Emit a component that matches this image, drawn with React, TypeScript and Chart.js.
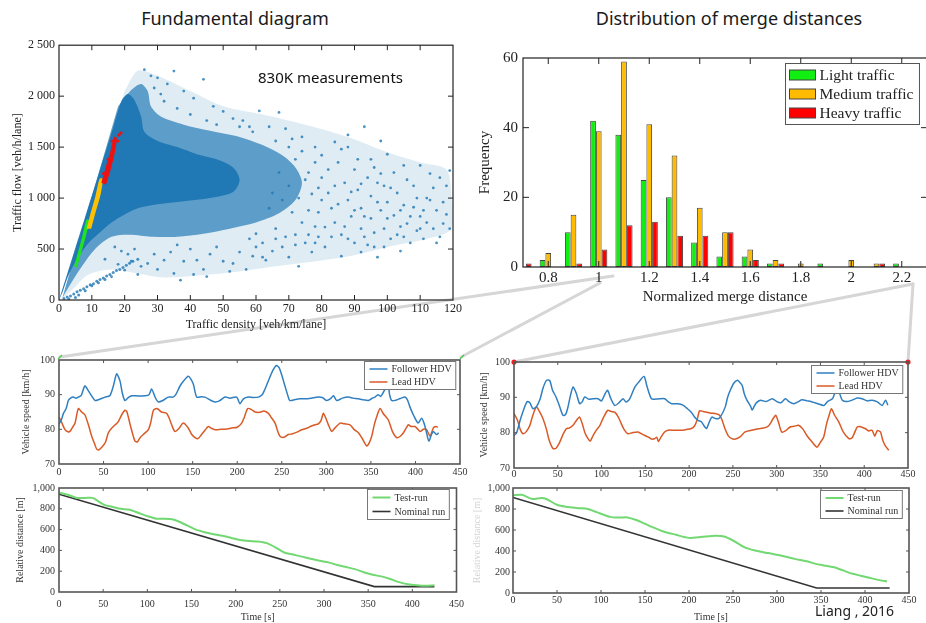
import React, { useEffect, useRef } from "react";
import { Chart, registerables } from "chart.js";
Chart.register(...registerables);

// ---------------- DATA ----------------
// Histogram of merge distances (bin centres and frequencies)
const BINS = [0.7, 0.8, 0.9, 1.0, 1.1, 1.2, 1.3, 1.4, 1.5, 1.6, 1.7, 1.8, 1.9, 2.0, 2.1, 2.2];
const LIGHT = [null, 2, 10, 42, 38, 25, 20, 7, 3, 3, 1, null, 1, null, null, 1];
const MEDIUM = [null, 4, 15, 39, 59, 41, 32, 17, 10, 5, 2, 1, null, 2, 1, null];
const HEAVY = [1, null, 1, 5, 12, 13, 9, 9, 10, 2, 1, null, null, null, 1, null];
const BAR_X_TICKS = [0.8, 1, 1.2, 1.4, 1.6, 1.8, 2, 2.2];
const BAR_Y_TICKS = [0, 20, 40, 60];

// Fundamental diagram: density regions (outlines) and sparse measurements
type P = [number, number];
const CLOUD_CORE: P[] = [[0,0],[4,410],[8,820],[12,1230],[16,1640],[19,1950],[21,2020],[23,1960],[25,1800],[26,1650],[30,1560],[36,1500],[42,1430],[48,1380],[53,1300],[55,1180],[53,1060],[46,1000],[38,970],[30,940],[24,900],[20,840],[16,760],[12,650],[9,560],[6,430],[3,250],[1,70]];
const CLOUD_MID: P[] = [[18,1900],[22,2060],[25,2120],[27,2050],[28,1900],[31,1800],[38,1720],[46,1660],[55,1600],[62,1520],[68,1420],[72,1300],[74,1150],[72,980],[67,850],[60,760],[52,700],[44,650],[36,620],[28,620],[22,640],[16,620],[11,500],[7,330],[3,130],[1,20]];
const CLOUD_OUTER: P[] = [[20,2050],[24,2250],[30,2200],[40,2050],[50,1900],[62,1820],[75,1720],[88,1600],[100,1450],[110,1350],[118,1280],[119.5,1000],[119.5,700],[112,600],[100,520],[90,440],[78,380],[66,330],[55,280],[42,240],[32,220],[24,260],[16,300],[9,250],[4,100],[1,10]];
const SPARSE_POINTS: P[] = [
  [80,1200],[82,1050],[83,900],[84,760],[85,1350],[86,640],[87,1150],[88,980],[88,1500],[89,820],[90,560],[90,1280],[91,1080],[92,700],[92,900],[93,1700],[93,620],[94,1200],[95,800],[95,1020],[96,520],[97,420],[97,1150],[98,880],[99,700],[99,1120],[100,960],[101,600],[102,830],[102,1250],[103,1050],[104,720],[105,1320],[105,930],[106,750],[107,560],[108,910],[108,1120],[109,680],[110,820],[111,600],[112,1000],[112,760],[113,1240],[113,980],[114,700],[115,880],[116,1200],[116,620],[117,750],[118,840],[119,1270],[119,700],[100,1430],[95,1380],[110,1320],[86,430],[92,470],[104,480],[88,1620],[98,1560],
  [61,1855],[64,1700],[67,1840],[70,1500],[71,1580],[72,1380],[74,1460],[76,1250],[78,1350],[79,1100],[62,420],[65,480],[68,520],[70,420],[73,330],[75,560],[77,470],[79,620],[81,716],[78,720],[76,880],[80,980],[63,391],[66,600],[72,640],
  [26,2260],[28,2200],[30,2180],[33,2120],[35,2246],[38,2050],[41,1980],[44,2165],[47,1900],[50,1850],[53,1780],[56,1760],[58,1700],[32,1950],[36,1880],[40,1820],[45,1760],[48,1720],[29,2080],[31,2020],
  [25,330],[27,358],[29,450],[30,300],[32,391],[34,470],[35,260],[37,195],[38,380],[40,500],[42,391],[44,300],[46,450],[48,520],[50,380],[53,358],[55,470],[57,300],[59,430],[60,520],[45,230],[52,280],[36,540],[41,250],
  [14,400],[16,228],[18,350],[20,293],[21,450],[22,380],[23,500],[24,250],[19,480],[17,520],
  [58,600],[60,650],[62,560],[64,900],[65,1050],[66,700],[67,1250],[68,980],[69,620],[70,1120],[71,860],[72,540],[73,1000],[74,760],[75,1180],[76,640],[77,1040],[78,560],[79,860],[80,1420],[81,520],[82,1280],[83,620],[84,1120],[85,940],[86,1480],[87,720],[88,600],[89,1060],[90,880],[91,1380],[92,1140],[93,820],[94,540],[96,660],[97,960],[98,1240],[99,520],[100,800],[101,1100],[103,640],[104,880],[106,1180],[107,820],[109,1000],[111,880],[114,1100],[115,560],[117,960],[118,1120],[110,700],[105,620],[96,1300],[84,1550],[78,1500],[74,1600],[69,1680],[66,1560],[59,1650],[55,1700]
];
const LOW_BRANCH: P[] = [[1.5,15],[2.5,30],[3.5,40],[4.5,60],[5.5,80],[6.5,95],[7.5,110],[8.5,130],[9.5,150],[10.5,160],[11.5,185],[12.5,200],[13.5,215],[14.5,235],[15.5,250],[16.5,270],[17.5,290],[18.5,300],[19.5,320],[20.5,340],[21.5,360],[22.5,380],[24,400],[6,50],[8,90],[10,140],[12,170],[14,200],[3,10],[5,25]];
const MERGE_LIGHT: P[] = [[4.6,330],[5.8,470],[7.2,640],[8.4,790],[9.2,780],[8.3,640],[6.9,480],[5.5,320]];
const MERGE_MEDIUM: P[] = [[8.4,700],[9.7,860],[11.1,1020],[12.4,1190],[13.3,1190],[12.7,1040],[11.3,880],[9.8,700]];
const MERGE_HEAVY: P[] = [[12.9,1150],[14.2,1300],[15.6,1450],[16.8,1600],[17.6,1590],[17,1450],[15.9,1300],[14.3,1130]];
const MERGE_HEAVY_PTS: P[] = [[18.3,1620],[17.9,1560],[16.5,1500],[15,1380],[13.6,1240],[16.2,1560],[18.9,1640]];
const FD_X_TICKS = [0, 10, 20, 30, 40, 50, 60, 70, 80, 90, 100, 110, 120];
const FD_Y_TICKS = [0, 500, 1000, 1500, 2000, 2500];

// Test-run time series: [time s, speed km/h]
const L_FOLLOWER: P[] = [[0,81.5],[3,83],[5,84.6],[8,86],[10.5,88.3],[13,89],[16,89.3],[19,89],[21.7,89.3],[25,89.8],[29,92.5],[33,91.1],[37,89.5],[40.5,88.3],[45,88.6],[51.6,89.3],[57,89.7],[61,92.5],[64.7,96],[68.5,93.9],[71,90.5],[74,88.3],[78,89.2],[81.6,89.7],[90,89.6],[96.5,89.7],[101,90],[104,91.6],[107.8,89.3],[111.5,87.9],[117,88.4],[122.7,89.3],[128,89.3],[131,90],[135.8,92.5],[140,94],[145,95.3],[148,94.5],[150.8,93],[154.5,89.3],[160,89.4],[163.9,89.3],[170,88.4],[175,87.9],[180,88.2],[186.3,89.3],[192,89],[199.4,89.3],[203,87.4],[207,88.8],[212.5,89.3],[218,89.2],[223.7,89.3],[228,90],[231,91.5],[235,94],[240,97],[244,98.4],[247,97.8],[249.8,95.8],[253,93],[257.3,89.3],[259,88.3],[265,88.6],[270,88.8],[276,88.8],[283,89],[291,89.3],[296,89.1],[300.4,88.3],[305,88.9],[308,89.7],[311.6,88.3],[318,89],[324.7,89.3],[330,89],[336,88.8],[342,88.5],[347,88.3],[351,88.9],[354.6,89.3],[358,90],[361,89.5],[364,90.7],[367,92],[369.5,92.5],[371,90],[373.3,88.3],[378,88.4],[383,88.9],[388.3,89.3],[391,88.5],[393.9,86.4],[398,84],[403,81.8],[406.9,83.2],[410,81.5],[412.5,79],[415,76.6],[418,78.5],[420,79.4],[423.7,78.5],[426,79]];
const L_LEAD: P[] = [[0,83.5],[3,82],[6.7,79.9],[10,79.3],[12.3,79.4],[15,80.5],[18,81.8],[21.7,86],[25.4,85],[29,84.2],[33,81.3],[36.7,78],[40,75.8],[42.3,74.3],[45,74.1],[48,74.8],[52,76.2],[55.4,79],[59,80.3],[63,81.3],[66,82],[68.5,83.2],[71,84.5],[74,85.5],[76,85.2],[79.9,81.3],[82.5,78.8],[85.3,76.6],[88,76.4],[91,77.6],[95,78.6],[100.3,79.9],[103,82],[106,85.5],[110,86],[115,85],[120.8,84.6],[124,83],[126.4,81.3],[130,79.4],[135,80.4],[139.5,81.8],[145,80.4],[149,78.5],[152.6,77.6],[156,77.3],[160,78.5],[164,79.8],[167.6,80.8],[171,80.3],[175,79.9],[182,80],[188,80.1],[193.8,80.4],[200,80.6],[205,81.8],[208,83.5],[211.8,86],[216,85.7],[220,85],[225,84.9],[230,85.3],[235,84.6],[238,83.5],[242.5,81.8],[245,79.8],[248,78],[252,77.7],[257.3,78.5],[262,78.7],[267,79.2],[272.3,79.9],[278,80.3],[282,80.8],[287.3,81.3],[291,81.6],[294,82.5],[296.6,84.6],[299,83.5],[302,81.5],[306,79.4],[310,80.5],[315.4,81.8],[320,81.6],[326.6,81.3],[331,80],[336,79],[340,77.5],[345.3,75.2],[348,76],[350.9,78],[354,81.5],[357,84],[360.3,86],[364,84.5],[369.6,82.7],[374,79.5],[379,77.6],[383,78],[386.5,79],[392,81.3],[395,80.8],[399.5,80.8],[402,80.2],[405.2,79.4],[409,80],[412.6,79.9],[416.4,78],[420.1,80.4],[423,80.8],[425,80.6]];
const R_FOLLOWER: P[] = [[0,79.2],[3,80],[7,83.5],[11,86.5],[15,88.8],[18,88.5],[21.6,86.8],[25.5,87.3],[30,89.7],[33,92.5],[37,94.8],[40.7,94.8],[44,92],[48,90.1],[52,87.5],[56,84.9],[59,85.2],[61.7,87.3],[64,90],[67.4,92.9],[71,91.2],[75,88.2],[78,88.8],[80.7,90.1],[85,89.5],[90,89.6],[96,89.6],[100,89],[104,91],[107,92],[110,90],[115,87.7],[120,88.5],[124.5,89.6],[128,88.7],[132,89.5],[138,92.9],[143,94.5],[148.5,95.9],[152,93],[157,89.6],[162,89.5],[166,89.6],[172,89.6],[176,88.8],[180,88.2],[187,88.2],[193,87.8],[197,87],[202.5,85.8],[206,84.5],[210,83.5],[214,83.1],[218,81.6],[220,81.2],[223,83],[226,84.4],[230,84],[233.7,84],[237,85],[241.3,87.3],[244,90],[247,92],[251,94],[254.8,94.8],[257,94.5],[260.5,93.4],[263,91],[266,89.2],[270,87.6],[272,86.4],[274,87.3],[277,88.5],[281.5,89.2],[288,88.8],[295,89.6],[300.7,88.7],[305,88.5],[310,89.6],[314,88.8],[319.7,88.2],[325,88.8],[329,89.3],[335,89],[340.7,88.7],[347,88.2],[354,87.7],[358,88.8],[363.7,89.6],[366,91],[369,92.3],[372,91],[375,89.2],[380,88.8],[386,89.2],[392,89.8],[397.6,89.6],[403,89],[409,89.2],[415,88.7],[420.5,87.7],[424.4,89.2],[427,87.8]];
const R_LEAD: P[] = [[0,85.4],[4,83.5],[7,81],[10.3,79.7],[14,80.3],[18,82],[21,84.5],[25.5,87.3],[29,86],[33,84],[37,81],[40,78],[44.5,75.5],[48,75.6],[52,77.2],[56,79.5],[59.8,81.1],[63,81.3],[67.4,82.1],[70,83],[73,84],[75,84.4],[78,82.5],[81,80],[84.5,78.3],[87,77.6],[90,79],[94,80.7],[98,82],[102,84.2],[107,86.3],[111,86],[115,85.8],[119,84.5],[122.6,82.5],[126,80.8],[130,79.7],[135,80],[141.6,80.2],[147,79.5],[153,78.8],[157,78.2],[160.6,78.3],[163,78.7],[165,77.5],[168,78.8],[172,80.2],[176,80.7],[183,80.7],[191,80.7],[197,80.9],[202,81.1],[206,81.8],[209,83.5],[212,86.2],[216,86],[220,85.8],[225,85.5],[229.6,85.4],[235,84.9],[238,83.3],[241,81.1],[245,79],[248.7,78.3],[253,78.2],[258,78.8],[264,80.2],[270,80.6],[279,81.1],[285,81.3],[290,81.8],[292.5,82.5],[296,84],[299,84.9],[302,83],[305.7,80.2],[310,80.5],[315.3,81.6],[320,81.8],[325,82.1],[330,81],[334.4,79.2],[340,77.5],[346,75.9],[350,77.3],[353.7,78.8],[357,82.5],[360,85],[362.5,86.8],[366,85],[371,83],[376,80.2],[382.4,78.3],[386,78.5],[389,80],[392,81.6],[396,81.7],[401.5,81.1],[405,80.5],[409,80.7],[412,79],[415,80.6],[418.5,80.2],[421,78],[424,76.3],[428,75]];
// Relative distance: [time s, distance m]
const L_TEST: P[] = [[0,955],[10,935],[20,905],[30,905],[38,905],[45,870],[52,835],[60,820],[70,800],[80,790],[90,760],[100,730],[110,705],[120,705],[128,700],[135,680],[145,640],[155,600],[165,575],[175,555],[185,540],[195,520],[205,500],[215,490],[225,485],[235,470],[245,430],[255,380],[265,360],[275,340],[285,320],[295,300],[305,285],[315,260],[325,240],[335,220],[345,190],[355,165],[365,150],[375,125],[385,95],[395,75],[405,65],[415,60],[425,65]];
const L_NOMINAL: P[] = [[0,940],[357,52],[425,52]];
const R_TEST: P[] = [[0,930],[10,935],[22,895],[32,905],[38,895],[50,840],[60,822],[75,808],[85,800],[95,770],[110,725],[120,718],[130,720],[140,695],[155,640],[170,588],[185,555],[200,525],[215,535],[230,545],[240,538],[250,500],[262,440],[275,405],[290,380],[305,355],[320,325],[335,300],[345,275],[352,265],[365,245],[375,215],[385,185],[395,165],[405,145],[415,125],[425,110]];
const R_NOMINAL: P[] = [[0,910],[345,48],[428,48]];
const TIME_TICKS = [0, 50, 100, 150, 200, 250, 300, 350, 400, 450];
const SPEED_TICKS = [70, 80, 90, 100];
const DIST_TICKS = [0, 200, 400, 600, 800, 1000];

// ---------------- HELPERS ----------------
const SERIF = "'Liberation Serif', 'Times New Roman', serif";
const SANS = "'Noto Sans', 'Open Sans', sans-serif";
const xy = (arr: P[]) => arr.map(([x, y]) => ({ x, y }));

const framePlugin = {
  id: "frame",
  afterDatasetsDraw(chart: any, _a: any, o: any) {
    if (!o || !o.color) return;
    const { ctx, chartArea: a } = chart;
    const xs = chart.scales.x, ys = chart.scales.y;
    ctx.save();
    ctx.strokeStyle = o.color;
    ctx.lineWidth = o.tickWidth;
    ctx.beginPath();
    xs.ticks.forEach((t: any) => {
      const p = xs.getPixelForValue(t.value);
      if (p < a.left + 1 || p > a.right - 1) return;
      ctx.moveTo(p, a.bottom); ctx.lineTo(p, a.bottom - o.tickLen);
      ctx.moveTo(p, a.top); ctx.lineTo(p, a.top + o.tickLen);
    });
    ys.ticks.forEach((t: any) => {
      const p = ys.getPixelForValue(t.value);
      if (p < a.top + 1 || p > a.bottom - 1) return;
      ctx.moveTo(a.left, p); ctx.lineTo(a.left + o.tickLen, p);
      ctx.moveTo(a.right, p); ctx.lineTo(a.right - o.tickLen, p);
    });
    ctx.stroke();
    ctx.lineWidth = o.width;
    ctx.strokeRect(a.left, a.top, a.right - a.left, a.bottom - a.top);
    ctx.restore();
  },
};

const legendPlugin = {
  id: "boxLegend",
  afterDraw(chart: any, _a: any, o: any) {
    if (!o || !o.font) return;
    const { ctx, chartArea: a } = chart;
    const items = chart.data.datasets.filter((d: any) => d.label);
    ctx.save();
    ctx.font = o.font;
    const tw = Math.max(...items.map((d: any) => ctx.measureText(d.label).width));
    const w = o.padL + o.swatchW + o.gap + tw + o.padR;
    const h = o.padY * 2 + o.itemH * items.length;
    const x0 = Math.round(a.right - o.marginRight - w) + 0.5;
    const y0 = Math.round(a.top + o.marginTop) + 0.5;
    ctx.fillStyle = "#fff";
    ctx.fillRect(x0, y0, w, h);
    ctx.strokeStyle = o.border;
    ctx.lineWidth = 1;
    ctx.strokeRect(x0, y0, w, h);
    items.forEach((d: any, i: number) => {
      const cy = y0 + o.padY + o.itemH * (i + 0.5);
      const sx = x0 + o.padL;
      if (o.mode === "box") {
        ctx.fillStyle = d.backgroundColor;
        ctx.fillRect(sx, cy - o.swatchH / 2, o.swatchW, o.swatchH);
        ctx.strokeStyle = d.borderColor;
        ctx.strokeRect(sx, cy - o.swatchH / 2, o.swatchW, o.swatchH);
      } else {
        ctx.strokeStyle = d.borderColor;
        ctx.lineWidth = d.borderWidth;
        ctx.beginPath(); ctx.moveTo(sx, cy); ctx.lineTo(sx + o.swatchW, cy); ctx.stroke();
      }
      ctx.fillStyle = o.textColor;
      ctx.textBaseline = "middle";
      ctx.textAlign = "left";
      ctx.fillText(d.label, sx + o.swatchW + o.gap, cy + 0.5);
    });
    ctx.restore();
  },
};

type Rect = { l: number; t: number; w: number; h: number };
type Plot = { l: number; t: number; r: number; b: number };

function axis(kind: "x" | "y", o: any) {
  return {
    type: "linear",
    min: o.min,
    max: o.max,
    offset: false,
    grid: { display: false, drawTicks: false, offset: false },
    border: { display: false },
    afterBuildTicks: (s: any) => { s.ticks = o.ticks.map((v: number) => ({ value: v })); },
    afterFit: (s: any) => { if (kind === "x") s.height = o.size; else s.width = o.size; },
    ticks: {
      callback: (v: any) => o.fmt(Number(v)),
      font: { family: SERIF, size: o.fontSize },
      color: o.color,
      padding: o.pad,
      maxRotation: 0,
      autoSkip: false,
    },
    title: o.title
      ? { display: true, text: o.title, font: { family: SERIF, size: o.titleSize }, color: o.titleColor || o.color, padding: 0 }
      : { display: false },
  };
}

function pad(c: Rect, p: Plot) {
  return { left: 0, top: p.t - c.t, right: c.l + c.w - p.r, bottom: 0 };
}

function ChartBox({ rect, make }: { rect: Rect; make: () => any }) {
  const ref = useRef<HTMLCanvasElement>(null);
  useEffect(() => {
    const chart = new Chart(ref.current as HTMLCanvasElement, make());
    return () => chart.destroy();
  }, []);
  return (
    <div style={{ position: "absolute", left: rect.l, top: rect.t, width: rect.w, height: rect.h }}>
      <canvas ref={ref} />
    </div>
  );
}

const baseOptions = (padding: any) => ({
  animation: false,
  responsive: true,
  maintainAspectRatio: false,
  events: [],
  layout: { padding },
});

// ---------------- CHART CONFIGS ----------------
const FD_C: Rect = { l: 11, t: 34, w: 453, h: 298 };
const FD_P: Plot = { l: 59, t: 44, r: 454, b: 300 };
const blue = (a: number) => `rgba(31,119,180,${a})`;
const poly = (data: P[], color: string, order: number) => ({
  data: xy(data), showLine: true, fill: "shape", backgroundColor: color,
  borderColor: "rgba(0,0,0,0)", borderWidth: 0, pointRadius: 0, tension: 0.3, order,
});
const dots = (data: P[], color: string, r: number, order: number) => ({
  data: xy(data), showLine: false, pointRadius: r, pointBackgroundColor: color,
  pointBorderWidth: 0, borderColor: color, order,
});

const makeFD = () => ({
  type: "line",
  data: {
    datasets: [
      poly(CLOUD_OUTER, blue(0.14), 10),
      poly(CLOUD_MID, blue(0.68), 9),
      dots(SPARSE_POINTS, blue(0.8), 1.4, 8),
      poly(CLOUD_CORE, blue(0.97), 7),
      dots(LOW_BRANCH, blue(0.8), 1.5, 6),
      poly(MERGE_LIGHT, "#22e022", 5),
      poly(MERGE_MEDIUM, "#ffc000", 4),
      poly(MERGE_HEAVY, "#ee1111", 3),
      dots(MERGE_HEAVY_PTS, "#ee1111", 1.6, 2),
    ],
  },
  options: {
    ...baseOptions(pad(FD_C, FD_P)),
    plugins: {
      legend: { display: false }, tooltip: { enabled: false },
      frame: { color: "#222", width: 1.2, tickWidth: 1, tickLen: 5 },
    },
    scales: {
      x: axis("x", { min: 0, max: 120, ticks: FD_X_TICKS, fmt: (v: number) => String(v), size: FD_C.t + FD_C.h - FD_P.b, fontSize: 12, pad: 2, color: "#222", title: "Traffic density [veh/km/lane]", titleSize: 12 }),
      y: axis("y", { min: 0, max: 2500, ticks: FD_Y_TICKS, fmt: (v: number) => (v >= 1000 ? `${Math.floor(v / 1000)} ${String(v % 1000).padStart(3, "0")}` : String(v)), size: FD_P.l - FD_C.l, fontSize: 12, pad: 4, color: "#222", title: "Traffic flow [veh/h/lane]", titleSize: 12 }),
    },
  },
  plugins: [framePlugin],
});

const BAR_C: Rect = { l: 476, t: 44, w: 454, h: 262 };
const BAR_P: Plot = { l: 523, t: 54, r: 927, b: 267 };
const barSet = (label: string, vals: (number | null)[], color: string) => ({
  label, data: BINS.map((b, i) => ({ x: b, y: vals[i] })), backgroundColor: color,
  borderColor: "#444", borderWidth: 1, borderSkipped: false,
  categoryPercentage: 0.68, barPercentage: 1.0,
});
const makeBar = () => ({
  type: "bar",
  data: {
    datasets: [
      barSet("Light traffic", LIGHT, "#11ee11"),
      barSet("Medium traffic", MEDIUM, "#ffbb00"),
      barSet("Heavy traffic", HEAVY, "#ff0000"),
    ],
  },
  options: {
    ...baseOptions(pad(BAR_C, BAR_P)),
    plugins: {
      legend: { display: false }, tooltip: { enabled: false },
      frame: { color: "#222", width: 1.2, tickWidth: 1, tickLen: 6 },
      boxLegend: { mode: "box", font: `15.5px ${SERIF}`, textColor: "#222", border: "#555", swatchW: 26, swatchH: 10, itemH: 19, padL: 4, gap: 4, padR: 6, padY: 2, marginRight: 8, marginTop: 5 },
    },
    scales: {
      x: axis("x", { min: 0.7, max: 2.3, ticks: BAR_X_TICKS, fmt: (v: number) => String(Math.round(v * 10) / 10), size: BAR_C.t + BAR_C.h - BAR_P.b, fontSize: 15, pad: 2, color: "#222", title: "Normalized merge distance", titleSize: 15 }),
      y: axis("y", { min: 0, max: 60, ticks: BAR_Y_TICKS, fmt: (v: number) => String(v), size: BAR_P.l - BAR_C.l, fontSize: 15, pad: 5, color: "#222", title: "Frequency", titleSize: 15 }),
    },
  },
  plugins: [framePlugin, legendPlugin],
});

const lineSet = (label: string, data: P[], color: string, width: number, tension: number) => ({
  label, data: xy(data), borderColor: color, backgroundColor: color, borderWidth: width,
  pointRadius: 0, tension, fill: false,
});
const FOLLOW = "#2f7fc1";
const LEAD = "#d95a26";
const TEST = "#72d872";
const NOMINAL = "#333333";
const smallLegend = (mr: number, mt: number, itemH: number) => ({
  mode: "line", font: `10px ${SERIF}`, textColor: "#333", border: "#777", swatchW: 18, swatchH: 0,
  itemH, padL: 5, gap: 4, padR: 4, padY: 1, marginRight: mr, marginTop: mt,
});

function makeSmall(c: Rect, p: Plot, sets: any[], kind: "speed" | "dist", leg: any, o: any) {
  return () => ({
    type: "line",
    data: { datasets: sets },
    options: {
      ...baseOptions(pad(c, p)),
      plugins: {
        legend: { display: false }, tooltip: { enabled: false },
        frame: { color: "#555", width: 1.6, tickWidth: 1, tickLen: 3 },
        boxLegend: leg,
      },
      scales: {
        x: axis("x", { min: 0, max: 450, ticks: TIME_TICKS, fmt: (v: number) => String(v), size: c.t + c.h - p.b, fontSize: 10, pad: o.xPad, color: "#333", title: kind === "dist" ? "Time [s]" : undefined, titleSize: 10 }),
        y: kind === "speed"
          ? axis("y", { min: 70, max: 100, ticks: SPEED_TICKS, fmt: (v: number) => String(v), size: p.l - c.l, fontSize: 10, pad: o.yPad, color: "#333", title: "Vehicle speed [km/h]", titleSize: 10 })
          : axis("y", { min: 0, max: 1000, ticks: DIST_TICKS, fmt: (v: number) => v.toLocaleString("en-US"), size: p.l - c.l, fontSize: 10, pad: o.yPad, color: "#333", title: "Relative distance [m]", titleSize: 10, titleColor: o.titleColor }),
      },
    },
    plugins: [framePlugin, legendPlugin],
  });
}

const BLS_C: Rect = { l: 20, t: 350, w: 450, h: 132 };
const BLS_P: Plot = { l: 59, t: 357, r: 460, b: 464 };
const BLD_C: Rect = { l: 14, t: 478, w: 456, h: 145 };
const BLD_P: Plot = { l: 59, t: 486, r: 460, b: 592 };
const BRS_C: Rect = { l: 478, t: 352, w: 440, h: 134 };
const BRS_P: Plot = { l: 514, t: 362, r: 908, b: 468 };
const BRD_C: Rect = { l: 471, t: 478, w: 448, h: 145 };
const BRD_P: Plot = { l: 513, t: 488, r: 909, b: 593 };

const makeBLS = makeSmall(BLS_C, BLS_P, [lineSet("Follower HDV", L_FOLLOWER, FOLLOW, 1.5, 0.25), lineSet("Lead HDV", L_LEAD, LEAD, 1.5, 0.25)], "speed", smallLegend(5, 1, 13), { xPad: 2, yPad: 4 });
const makeBLD = makeSmall(BLD_C, BLD_P, [lineSet("Test-run", L_TEST, TEST, 2, 0.25), lineSet("Nominal run", L_NOMINAL, NOMINAL, 1.6, 0)], "dist", smallLegend(8, 1, 14), { xPad: 6, yPad: 4 });
const makeBRS = makeSmall(BRS_C, BRS_P, [lineSet("Follower HDV", R_FOLLOWER, FOLLOW, 1.5, 0.25), lineSet("Lead HDV", R_LEAD, LEAD, 1.5, 0.25)], "speed", smallLegend(6, 3, 13), { xPad: 0, yPad: 4 });
const makeBRD = makeSmall(BRD_C, BRD_P, [lineSet("Test-run", R_TEST, TEST, 2, 0.25), lineSet("Nominal run", R_NOMINAL, NOMINAL, 1.6, 0)], "dist", smallLegend(7, 2, 13), { xPad: 1, yPad: 3, titleColor: "#d4d4d4" });

// ---------------- APP ----------------
export default function App() {
  useEffect(() => { document.body.style.margin = "0"; }, []);
  return (
    <div style={{ position: "fixed", left: 0, top: 0, width: 926, height: 623, overflow: "hidden", background: "#fff" }}>
      <svg width={926} height={623} style={{ position: "absolute", left: 0, top: 0 }}>
        <g stroke="#cfcfcf" strokeWidth={3} strokeLinecap="round" opacity={0.85}>
          <line x1={613} y1={276} x2={60} y2={357} />
          <line x1={600} y1={283} x2={461} y2={357} />
          <line x1={913} y1={284} x2={514} y2={362} />
          <line x1={913} y1={284} x2={908} y2={362} />
        </g>
        <g stroke="#44cc44" strokeWidth={1.2}>
          <line x1={58} y1={359} x2={62} y2={355} />
          <line x1={460} y1={359} x2={464} y2={355} />
        </g>
        <circle cx={514} cy={362} r={2.6} fill="#ee2222" />
        <circle cx={908} cy={362} r={2.6} fill="#ee2222" />
      </svg>
      <div style={{ position: "absolute", left: 0, top: 7, width: 470, textAlign: "center", font: `18px ${SANS}`, lineHeight: "22px", color: "#1a1a1a" }}>Fundamental diagram</div>
      <div style={{ position: "absolute", left: 529, top: 7, width: 400, textAlign: "center", font: `18px ${SANS}`, lineHeight: "22px", color: "#1a1a1a" }}>Distribution of merge distances</div>
      <ChartBox rect={FD_C} make={makeFD} />
      <ChartBox rect={BAR_C} make={makeBar} />
      <ChartBox rect={BLS_C} make={makeBLS} />
      <ChartBox rect={BLD_C} make={makeBLD} />
      <ChartBox rect={BRS_C} make={makeBRS} />
      <ChartBox rect={BRD_C} make={makeBRD} />
      <div style={{ position: "absolute", left: 258, top: 67, font: `15px ${SANS}`, lineHeight: "20px", color: "#111" }}>830K measurements</div>
      <div style={{ position: "absolute", left: 815, top: 602, font: `14px ${SANS}`, lineHeight: "18px", color: "#222" }}>Liang , 2016</div>
    </div>
  );
}
